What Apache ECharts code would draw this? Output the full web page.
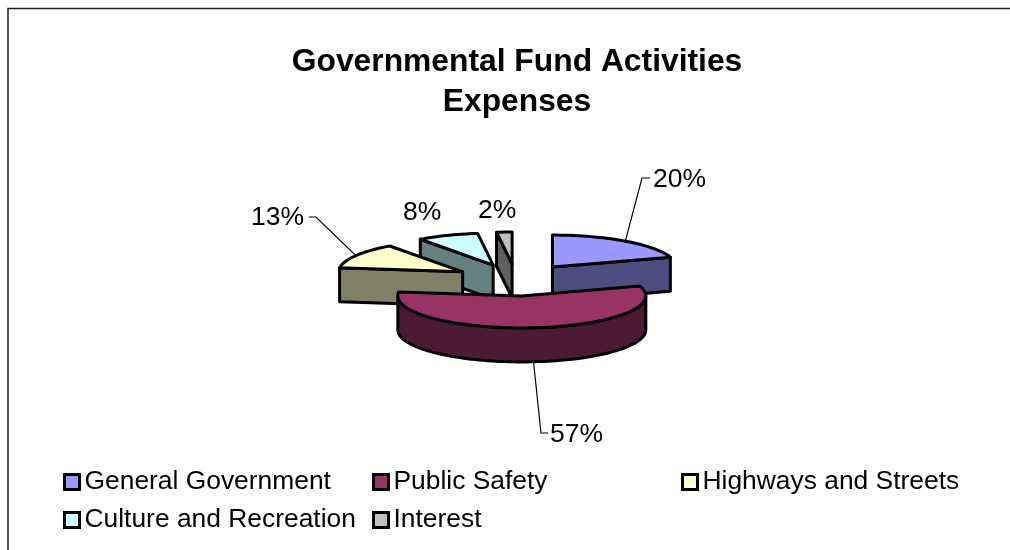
<!DOCTYPE html>
<html>
<head>
<meta charset="utf-8">
<style>html,body{margin:0;padding:0;background:#fff}#chart{width:1010px;height:550px}</style>
<script src="https://cdn.jsdelivr.net/npm/echarts@6/dist/echarts.min.js"></script>
</head>
<body>
<div id="chart"></div>
<script>
// Expense shares, in percent, clockwise from twelve o'clock
const categories = ['General Government', 'Public Safety', 'Highways and Streets', 'Culture and Recreation', 'Interest'];
const shares = [20, 57, 13, 8, 2];
const topColors = ['#9999ff', '#993366', '#ffffcc', '#ccffff', '#c0c0c0'];
const sideColors = ['#4d4d80', '#4d1a33', '#808066', '#668080', '#606060'];
const paintOrder = [2, 5, 4, 3, 1];   // z of each slice: nearer slices paint over farther ones

// Tilted-pie projection
const pie = { cx: 516, cy: 280, rx: 124, ry: 32, depth: 34, explode: 62 };
// Percent label anchors and leader elbows
const labelAnchors = [[653, 180], [550, 435], [304, 218], [403, 213], [478, 211]];
const labelAligns = ['left', 'left', 'right', 'left', 'left'];
const leaderElbows = [[[642, 178], [650, 178]], [[541, 433], [548, 433]], [[316, 217], [309, 217]], null, null];

const FONT = '"Liberation Sans", Arial, sans-serif';
const total = shares.reduce((a, b) => a + b, 0);
const toRad = d => d * Math.PI / 180;

function project(apex, deg, drop) {
  return [apex[0] + pie.rx * Math.sin(toRad(deg)), apex[1] - pie.ry * Math.cos(toRad(deg)) + (drop || 0)];
}
function arc(apex, from, to, drop) {
  const pts = [], n = Math.max(2, Math.ceil(Math.abs(to - from) / 2));
  for (let i = 0; i <= n; i++) pts.push(project(apex, from + (to - from) * i / n, drop));
  return pts;
}

function renderSlice(index) {
  const before = shares.slice(0, index).reduce((a, b) => a + b, 0);
  const a0 = before / total * 360;
  const a1 = (before + shares[index]) / total * 360;
  const mid = (a0 + a1) / 2;
  const apex = [
    pie.cx + pie.explode * Math.sin(toRad(mid)),
    pie.cy - pie.explode * pie.ry / pie.rx * Math.cos(toRad(mid))
  ];
  const d = pie.depth;
  const solid = fill => ({ fill, stroke: '#000', lineWidth: 3, lineJoin: 'round' });
  const children = [];

  const radialFace = deg => {
    const p = project(apex, deg);
    children.push({ type: 'polygon', shape: { points: [apex, p, [p[0], p[1] + d], [apex[0], apex[1] + d]] }, style: solid(sideColors[index]) });
  };
  if (a0 > 180 && a0 < 360) radialFace(a0);
  if (a1 > 0 && a1 < 180) radialFace(a1);

  // Rim: only the part of the outer edge that faces the viewer
  const f0 = Math.max(a0, 90), f1 = Math.min(a1, 270);
  if (f1 > f0) {
    children.push({
      type: 'polygon',
      shape: { points: arc(apex, f0, f1).concat(arc(apex, f1, f0, d)) },
      style: solid(sideColors[index])
    });
  }
  children.push({
    type: 'polygon',
    shape: { points: [apex].concat(arc(apex, a0, a1)) },
    style: solid(topColors[index])
  });

  // Leader line from the slice's outer edge to its label
  const elbow = leaderElbows[index];
  if (elbow) {
    const start = project(apex, mid, mid > 90 && mid < 270 ? d : 0);
    children.push({
      type: 'polyline',
      shape: { points: [start].concat(elbow) },
      style: { stroke: '#000', lineWidth: 1.2, fill: null }
    });
  }
  const anchor = labelAnchors[index];
  children.push({
    type: 'text',
    style: {
      text: shares[index] + '%', x: anchor[0], y: anchor[1],
      align: labelAligns[index], verticalAlign: 'middle',
      font: '26.5px ' + FONT, fill: '#000'
    }
  });
  return { type: 'group', children };
}

const legendBase = {
  orient: 'vertical', top: 469, icon: 'rect', itemWidth: 15, itemHeight: 15, itemGap: 12,
  selectedMode: false, padding: 0,
  itemStyle: { borderColor: '#000', borderWidth: 3 },
  textStyle: { fontFamily: FONT, fontSize: 26.4, color: '#000', padding: [0, 0, 0, 0] }
};

const chart = echarts.init(document.getElementById('chart'), null, { renderer: 'canvas' });
chart.setOption({
  animation: false,
  backgroundColor: '#fff',
  title: {
    text: 'Governmental Fund Activities\nExpenses',
    left: 512, top: 37, textAlign: 'center',
    textStyle: { fontFamily: FONT, fontWeight: 'bold', fontSize: 31.8, lineHeight: 40, color: '#000' }
  },
  legend: [
    Object.assign({}, legendBase, { left: 63, data: [categories[0], categories[3]] }),
    Object.assign({}, legendBase, { left: 372, data: [categories[1], categories[4]] }),
    Object.assign({}, legendBase, { left: 681, data: [categories[2]] })
  ],
  graphic: [{
    type: 'polyline', silent: true,
    shape: { points: [[8, 550], [8, 8.5], [1010, 8.5]] },
    style: { stroke: '#222', lineWidth: 1.5, fill: null }
  }],
  series: categories.map((name, i) => ({
    type: 'custom',
    name,
    coordinateSystem: 'none',
    z: paintOrder[i],
    silent: true,
    itemStyle: { color: topColors[i] },
    data: [[shares[i]]],
    renderItem: () => renderSlice(i)
  }))
});
</script>
</body>
</html>
